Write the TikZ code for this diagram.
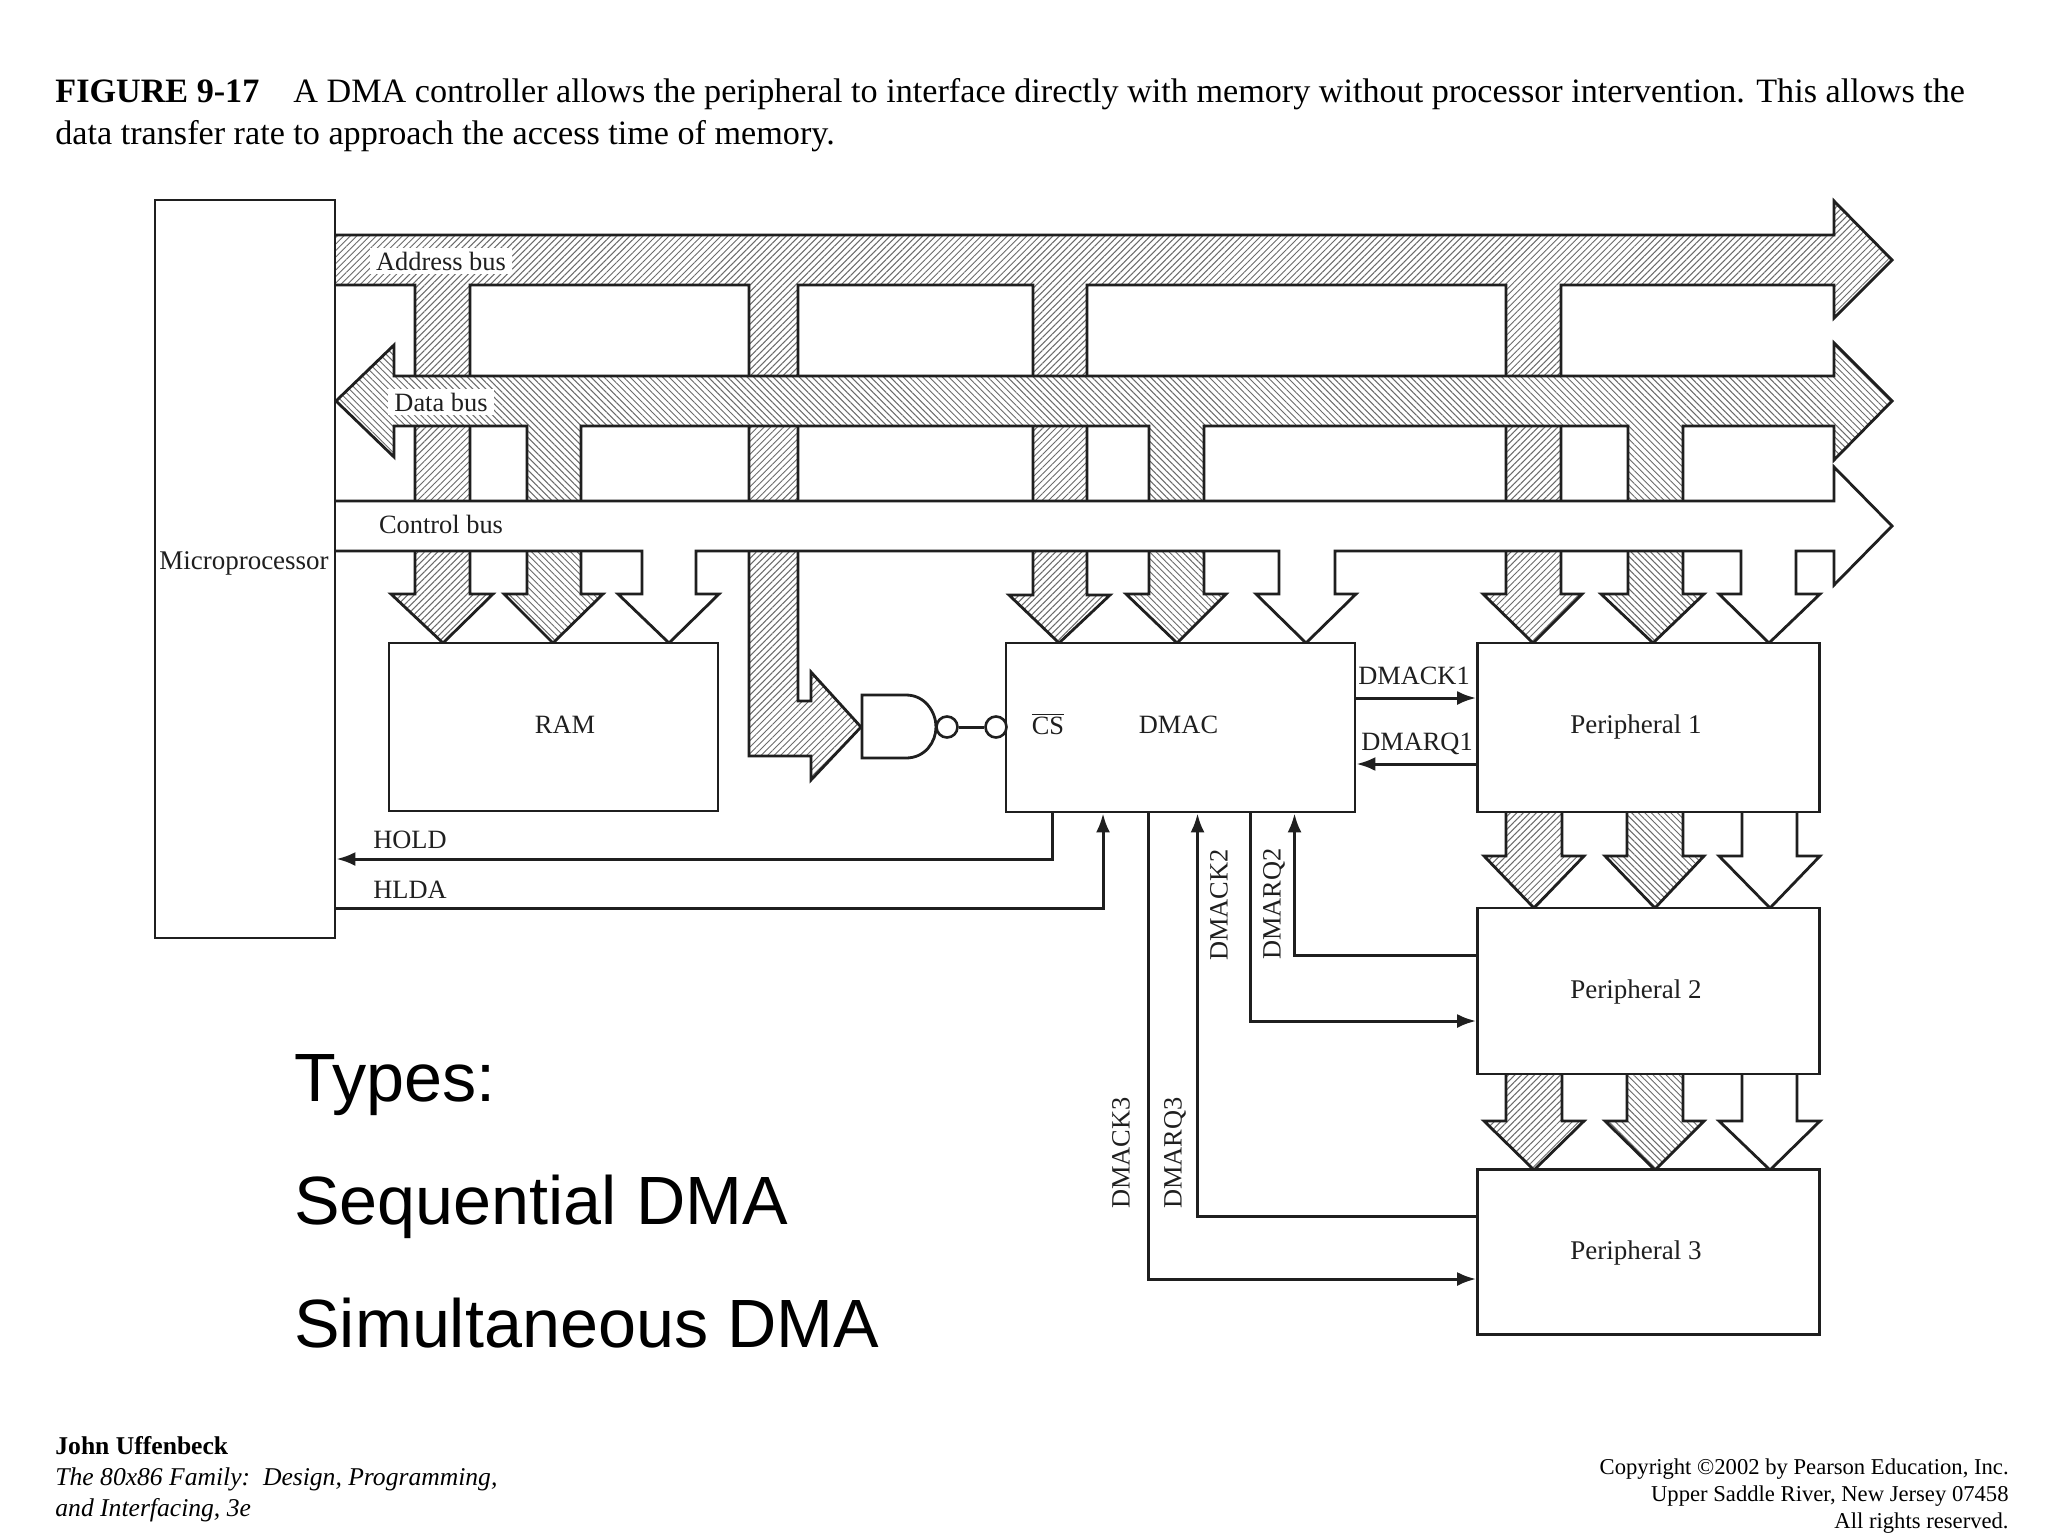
\documentclass[tikz,border=0pt]{standalone}
\usepackage{fontspec}
\setmainfont{Liberation Serif}
\newfontfamily\arialf{Liberation Sans}
\usetikzlibrary{patterns.meta,arrows.meta}
\definecolor{ink}{gray}{0.12}
\definecolor{hatch}{gray}{0.42}
\tikzset{
  x=0.5pt,y=-0.5pt,
  busline/.style={draw=ink,line width=1.4pt,line join=miter},
  busA/.style={busline,preaction={fill=white},pattern={Lines[angle=45,distance=2.3pt,line width=.5pt]},pattern color=hatch},
  busD/.style={busline,preaction={fill=white},pattern={Lines[angle=-45,distance=2.3pt,line width=.5pt]},pattern color=hatch},
  busC/.style={busline,fill=white},
  blockbox/.style={draw=ink,line width=1.4pt,fill=white,inner sep=0pt},
  lab/.style={inner sep=0pt,font=\fontsize{13.2pt}{15pt}\selectfont,text=ink},
  biglab/.style={inner sep=0pt,font=\fontsize{13.5pt}{15pt}\selectfont,text=ink},
  labpatch/.style={lab,fill=white,inner xsep=3pt,inner ysep=2pt},
  wire/.style={draw=ink,line width=1.5pt},
  wiretip/.style={-{Latex[length=9.5pt,width=7pt]}},
  bubble/.style={circle,draw=ink,line width=1.3pt,fill=white,minimum size=10.5pt,inner sep=0pt},
  captext/.style={inner sep=0pt,anchor=base west,font=\fontsize{17.08pt}{19pt}\selectfont,text=black},
  foot/.style={inner sep=0pt,anchor=base west,font=\fontsize{12.8pt}{15pt}\selectfont,text=black},
  copyr/.style={inner sep=0pt,anchor=base east,font=\fontsize{11.32pt}{14pt}\selectfont,text=black},
  bigtext/.style={inner sep=0pt,anchor=base west,font=\arialf\fontsize{34.15pt}{38pt}\selectfont,text=black},
}
\begin{document}
\begin{tikzpicture}
\useasboundingbox (0,0) rectangle (2048,1536);
\fill[white] (0,0) rectangle (2048,1536);

% caption
\node[captext] (capA) at (55,103) {\textbf{FIGURE 9-17}};
\node[captext] (capB) at (293,103) {A DMA controller allows the peripheral to interface directly with memory without processor intervention. This allows the};
\node[captext] (capC) at (55,144) {data transfer rate to approach the access time of memory.};

% address bus with its stems (the data and control buses pass over them)
\path[busA] (335,235) -- (1834,235) -- (1834,201) -- (1892,260) -- (1834,318) -- (1834,285)
  -- (1561,285) -- (1561,594) -- (1582,594) -- (1533,643) -- (1483,594) -- (1506,594) -- (1506,285)
  -- (1087,285) -- (1087,595) -- (1110,595) -- (1059,643) -- (1009,595) -- (1033,595) -- (1033,285)
  -- (798,285) -- (798,701) -- (811,701) -- (811,672) -- (861,727) -- (811,780) -- (811,756) -- (749,756) -- (749,285)
  -- (470,285) -- (470,594) -- (493,594) -- (443,643) -- (391,594) -- (415,594) -- (415,285)
  -- (335,285);

% data bus
\path[busD] (1834,376) -- (1834,343) -- (1892,401) -- (1834,460) -- (1834,426)
  -- (1683,426) -- (1683,594) -- (1704,594) -- (1653,643) -- (1601,594) -- (1628,594) -- (1628,426)
  -- (1204,426) -- (1204,594) -- (1226,594) -- (1177,643) -- (1126,594) -- (1149,594) -- (1149,426)
  -- (581,426) -- (581,594) -- (603,594) -- (553,643) -- (504,594) -- (527,594) -- (527,426)
  -- (394,426) -- (394,457) -- (336,401) -- (394,345) -- (394,376) -- cycle;

% control bus
\path[busC] (335,501) -- (1834,501) -- (1834,467) -- (1892,526) -- (1834,585) -- (1834,551)
  -- (1796,551) -- (1796,594) -- (1820,594) -- (1769,643) -- (1719,594) -- (1741,594) -- (1741,551)
  -- (1335,551) -- (1335,594) -- (1356,594) -- (1306,643) -- (1256,594) -- (1279,594) -- (1279,551)
  -- (696,551) -- (696,594) -- (719,594) -- (669,643) -- (618,594) -- (642,594) -- (642,551)
  -- (335,551);

% arrows from peripheral 1 to peripheral 2
\path[busA] (1506,812) -- (1506,856) -- (1484,856) -- (1534,908) -- (1584,856) -- (1562,856) -- (1562,812);
\path[busD] (1627,812) -- (1627,856) -- (1605,856) -- (1655,908) -- (1704,856) -- (1683,856) -- (1683,812);
\path[busC] (1742,812) -- (1742,856) -- (1719,856) -- (1770,908) -- (1820,856) -- (1797,856) -- (1797,812);
% arrows from peripheral 2 to peripheral 3
\path[busA] (1506,1074) -- (1506,1121) -- (1484,1121) -- (1534,1170) -- (1584,1121) -- (1562,1121) -- (1562,1074);
\path[busD] (1627,1074) -- (1627,1121) -- (1605,1121) -- (1655,1170) -- (1704,1121) -- (1683,1121) -- (1683,1074);
\path[busC] (1742,1074) -- (1742,1121) -- (1719,1121) -- (1770,1170) -- (1820,1121) -- (1797,1121) -- (1797,1074);

% blocks
\node[blockbox,minimum width=90pt,minimum height=369pt] (micro) at (245,569) {};
\node[biglab] (microlab) at (244,563) {Microprocessor};
\node[blockbox,minimum width=164.5pt,minimum height=84pt] (ram) at (553.5,727) {};
\node[lab] (ramlab) at (565,725) {RAM};
\node[blockbox,minimum width=174.5pt,minimum height=84.5pt] (dmac) at (1180.5,727.5) {};
\node[lab] (dmaclab) at (1178.5,725) {DMAC};
\node[lab] (cslab) at (1048,724) {$\overline{\mbox{CS}}$};
\node[blockbox,minimum width=171pt,minimum height=84.5pt] (pa) at (1648.5,727.5) {};
\node[biglab] (palab) at (1636,727) {Peripheral 1};
\node[blockbox,minimum width=171pt,minimum height=83pt] (pb) at (1648.5,991) {};
\node[biglab] (pblab) at (1636,992) {Peripheral 2};
\node[blockbox,minimum width=171pt,minimum height=82.5pt] (pc) at (1648.5,1252) {};
\node[biglab] (pclab) at (1636,1253) {Peripheral 3};

% bus labels
\node[labpatch] (addrlab) at (441,261) {Address bus};
\node[labpatch] (datalab) at (441,402) {Data bus};
\node[lab] (ctrllab) at (441,524) {Control bus};

% NAND gate and the chip select
\path[busline,fill=white] (862,695) -- (906,695) .. controls (925,695) and (936,712) .. (936,727)
  .. controls (936,742) and (925,758) .. (906,758) -- (862,758) -- cycle;
\node[bubble] (bubA) at (947,727) {};
\node[bubble] (bubB) at (996,727) {};
\draw[wire] (bubA) -- (bubB);

% handshake lines
\coordinate (holdx) at (1052,859);
\coordinate (hldax) at (1103,908);
\coordinate (ackAy) at (0,698);
\coordinate (rqAy) at (0,764);
\coordinate (ackCx) at (1148,1279);
\coordinate (rqCx) at (1197.5,1216);
\coordinate (ackBx) at (1250,1021);
\coordinate (rqBx) at (1294.5,955);

\draw[wire,wiretip] (dmac.south -| holdx) -- (holdx) -- (micro.east |- holdx);
\draw[wire,wiretip] (micro.east |- hldax) -- (hldax) -- (dmac.south -| hldax);
\draw[wire,wiretip] (dmac.east |- ackAy) -- (pa.west |- ackAy);
\draw[wire,wiretip] (pa.west |- rqAy) -- (dmac.east |- rqAy);
\draw[wire,wiretip] (dmac.south -| ackCx) -- (ackCx) -- (pc.west |- ackCx);
\draw[wire,wiretip] (pc.west |- rqCx) -- (rqCx) -- (dmac.south -| rqCx);
\draw[wire,wiretip] (dmac.south -| ackBx) -- (ackBx) -- (pb.west |- ackBx);
\draw[wire,wiretip] (pb.west |- rqBx) -- (rqBx) -- (dmac.south -| rqBx);

\node[lab] (holdlab) at (410,840) {HOLD};
\node[lab] (hldalab) at (410,890) {HLDA};
\node[lab] (ackAlab) at (1414,676) {DMACK1};
\node[lab] (rqAlab) at (1417,744) {DMARQ1};
\node[lab,rotate=90] (ackBlab) at (1219,905) {DMACK2};
\node[lab,rotate=90] (rqBlab) at (1274,904) {DMARQ2};
\node[lab,rotate=90] (ackClab) at (1121,1153) {DMACK3};
\node[lab,rotate=90] (rqClab) at (1175,1153) {DMARQ3};

% big text
\node[bigtext] (typesA) at (294,1101) {Types:};
\node[bigtext] (typesB) at (294,1224) {Sequential DMA};
\node[bigtext] (typesC) at (294,1347) {Simultaneous DMA};

% footer
\node[foot] (footA) at (55,1454) {\textbf{John Uffenbeck}};
\node[foot] (footB) at (55,1485) {\textit{The 80x86 Family:\ \ Design, Programming,}};
\node[foot] (footC) at (55,1516) {\textit{and Interfacing, 3e}};
\node[copyr] (copyA) at (2009,1474) {Copyright ©2002 by Pearson Education, Inc.};
\node[copyr] (copyB) at (2009,1501) {Upper Saddle River, New Jersey 07458};
\node[copyr] (copyC) at (2009,1528) {All rights reserved.};
\end{tikzpicture}
\end{document}
